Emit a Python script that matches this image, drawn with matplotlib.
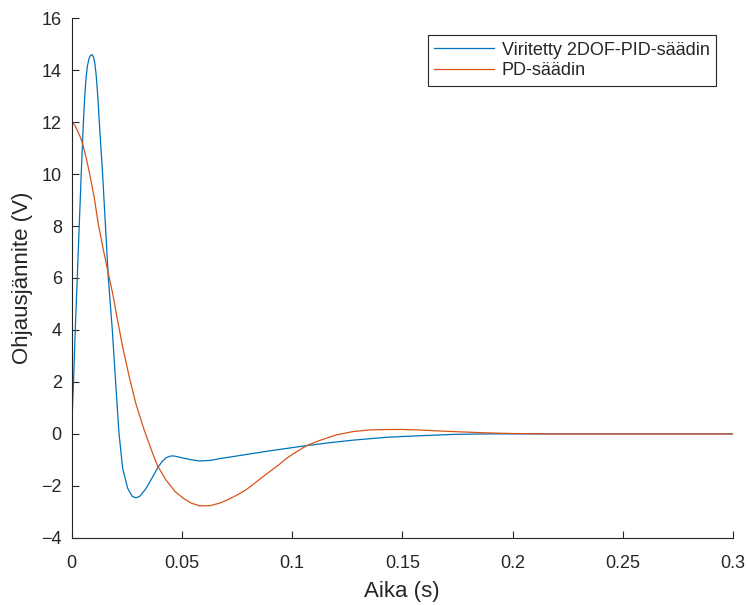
import numpy as np
import matplotlib
matplotlib.use("Agg")
import matplotlib.pyplot as plt

# values
t_pid = [0, 0.0009, 0.0017, 0.0026, 0.0035, 0.0044, 0.0054, 0.0060, 0.0066, 0.0072,
         0.0078, 0.0085, 0.0093, 0.0100, 0.0106, 0.0112, 0.0119, 0.0126, 0.0141,
         0.0154, 0.0167, 0.0185, 0.0200, 0.0215, 0.0232, 0.0255, 0.0275, 0.0292,
         0.0310, 0.0338, 0.0365, 0.0391, 0.0410, 0.0428, 0.0450, 0.0466, 0.0507,
         0.0545, 0.0582, 0.0630, 0.0673, 0.0750, 0.0824, 0.0900, 0.0975, 0.1066,
         0.117, 0.1277, 0.1428, 0.158, 0.173, 0.188, 0.2, 0.25, 0.3]
u_pid = [0, 2.0, 4.0, 6.0, 8.0, 10.0, 12.0, 13.0, 13.7, 14.15,
         14.4, 14.55, 14.6, 14.5, 14.25, 13.8, 13.0, 12.0, 10.0,
         8.0, 6.0, 4.0, 2.0, 0.05, -1.33, -2.1, -2.4, -2.46,
         -2.4, -2.1, -1.7, -1.3, -1.07, -0.92, -0.85, -0.85, -0.93,
         -1.0, -1.04, -1.02, -0.95, -0.85, -0.75, -0.65, -0.56, -0.45,
         -0.34, -0.24, -0.13, -0.07, -0.02, 0.0, 0.0, 0.0, 0.0]

t_pd = [0, 0.0015, 0.0028, 0.0040, 0.0051, 0.0066, 0.0081, 0.0103, 0.0121, 0.0144,
        0.0165, 0.0187, 0.0209, 0.0232, 0.0262, 0.0292, 0.0330, 0.0368, 0.0391,
        0.0428, 0.0470, 0.0507, 0.0545, 0.0582, 0.0630, 0.0673, 0.0710, 0.0749,
        0.0790, 0.0824, 0.0860, 0.0899, 0.0940, 0.0975, 0.1020, 0.1066, 0.1126,
        0.120, 0.1277, 0.135, 0.1428, 0.150, 0.158, 0.165, 0.173, 0.188,
        0.2, 0.215, 0.25, 0.3]
u_pd = [12.02, 11.88, 11.65, 11.42, 11.15, 10.64, 10.06, 9.1, 8.1, 7.1,
        6.25, 5.39, 4.37, 3.34, 2.19, 1.16, 0.14, -0.75, -1.24,
        -1.77, -2.22, -2.48, -2.67, -2.77, -2.76, -2.66, -2.53, -2.36,
        -2.16, -1.94, -1.70, -1.45, -1.19, -0.94, -0.69, -0.45, -0.25,
        -0.04, 0.09, 0.15, 0.17, 0.17, 0.15, 0.12, 0.09, 0.04,
        0.015, 0.0, 0.0, 0.0]

labels = ['Viritetty 2DOF-PID-säädin', 'PD-säädin']
xticks = [0, 0.05, 0.1, 0.15, 0.2, 0.25, 0.3]
xticklabels = ['0', '0.05', '0.1', '0.15', '0.2', '0.25', '0.3']
yticks = list(range(-4, 17, 2))

plt.rcParams['font.family'] = ['Liberation Sans', 'DejaVu Sans']
dark = '#262626'

fig = plt.figure(figsize=(7.48, 6.05), dpi=100)
ax = fig.add_axes([0.0956, 0.111, 0.8844, 0.859])

ax.plot(t_pid, u_pid, color='#0072BD', lw=0.9, label=labels[0])
ax.plot(t_pd, u_pd, color='#D95319', lw=0.9, label=labels[1])

ax.set_xlim(0, 0.3)
ax.set_ylim(-4, 16)
ax.set_xticks(xticks)
ax.set_xticklabels(xticklabels)
ax.set_yticks(yticks)

for s in ['top', 'right']:
    ax.spines[s].set_visible(False)
for s in ['left', 'bottom']:
    ax.spines[s].set_color(dark)
    ax.spines[s].set_linewidth(0.8)

ax.tick_params(axis='both', direction='in', length=5, width=0.8,
               color=dark, labelcolor=dark, labelsize=13)
ax.tick_params(axis='x', pad=12)
ax.tick_params(axis='y', pad=7)

ax.set_xlabel('Aika (s)', fontsize=16, color=dark, labelpad=7)
ax.set_ylabel('Ohjausjännite (V)', fontsize=16, color=dark, labelpad=6)

leg = ax.legend(loc='upper right', bbox_to_anchor=(0.974, 0.967), borderaxespad=0,
                fontsize=13, fancybox=False, framealpha=1, edgecolor=dark,
                handlelength=3.3, handletextpad=0.45, labelspacing=0.2,
                borderpad=0.35)
leg.get_frame().set_linewidth(0.8)
for txt in leg.get_texts():
    txt.set_color(dark)

fig.savefig('out.png', dpi=100)
